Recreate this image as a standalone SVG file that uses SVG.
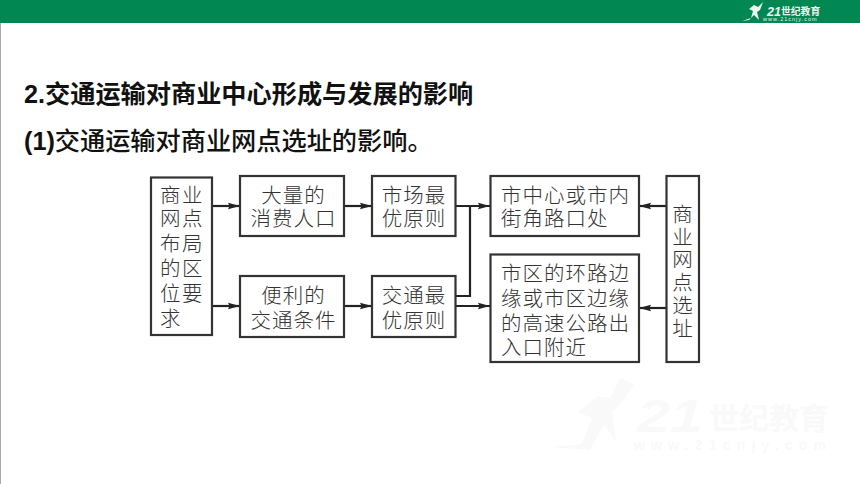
<svg xmlns="http://www.w3.org/2000/svg" width="860" height="484" viewBox="0 0 860 484">
<style>
.b{fill:#fff;stroke:#333;stroke-width:2.2}
.t{font-family:"Noto Sans CJK SC","Noto Sans",sans-serif;font-size:20.5px;fill:#333;font-weight:300;text-anchor:middle;letter-spacing:1px}
.s{text-anchor:start}
.h{font-family:"Liberation Sans","Noto Sans CJK SC",sans-serif;font-size:25.2px;fill:#111;font-weight:700}
.r{font-weight:500}
.c{fill:none;stroke:#222;stroke-width:2.2;marker-end:url(#a)}
.l{fill:none;stroke:#222;stroke-width:2.2}
</style>
<defs><marker id="a" markerUnits="userSpaceOnUse" markerWidth="13" markerHeight="8" refX="12" refY="4" orient="auto"><path d="M0 .8 L12 4 L0 7.200 L1.500 4Z" fill="#222"/></marker></defs>
<rect width="860" height="484" fill="#fff"/>
<rect x="0" y="0" width="860" height="23" fill="#008752"/>
<rect x="0" y="23" width="1" height="461" fill="#aaa"/>
<g id="logo" fill="#eef6f0">
<path d="M742 21 L751 18 L753 11 L749 9 L754 5 L758 7 L763 2 L760 10 L757 12 L759 20 L754 15 L749 20Z"/>
<text x="767" y="15.500" font-family="Liberation Sans,sans-serif" font-weight="700" font-style="italic" font-size="12.500">21</text>
<text x="781" y="15" font-family="Noto Sans CJK SC,sans-serif" font-weight="700" font-size="9.800">世纪教育</text>
<text x="763" y="21" font-family="Liberation Sans,sans-serif" font-size="5.500" letter-spacing="1">www.21cnjy.com</text>
</g>
<g id="watermark" fill="#f9f9f9">
<path d="M552 447 L582 444 L592 418 L578 412 L598 396 L610 398 L620 378 L634 384 L622 402 L612 412 L616 442 L604 424 L590 450Z"/>
<text x="637" y="432" font-family="Liberation Sans,sans-serif" font-weight="700" font-style="italic" font-size="46" textLength="66" lengthAdjust="spacingAndGlyphs">21</text>
<text x="709" y="429" font-family="Noto Sans CJK SC,sans-serif" font-weight="700" font-size="30">世纪教育</text>
<text x="634" y="450" font-family="Liberation Sans,sans-serif" font-weight="700" font-size="14" textLength="192">www.21cnjy.com</text>
</g>
<text class="h" x="24" y="103">2.交通运输对商业中心形成与发展的影响</text>
<text class="h" x="24" y="150">(1)<tspan class="r">交通运输对商业网点选址的影响。</tspan></text>
<g id="connectors">
<path class="c" d="M212 206H240"/><path class="c" d="M212 306H240"/>
<path class="c" d="M344 206H372"/><path class="c" d="M344 306H372"/>
<path class="c" d="M456 206H490"/><path class="l" d="M456 296H470V206"/>
<path class="c" d="M456 306H490"/>
<path class="c" d="M666 206H639"/><path class="c" d="M666 308H639"/>
</g>
<g id="n1"><rect class="b" x="151" y="177.500" width="61" height="157.500"/>
<text class="t" style="letter-spacing:1.500px"><tspan x="182" y="202.500">商业</tspan><tspan x="182" y="225.500">网点</tspan><tspan x="182" y="250.500">布局</tspan><tspan x="182" y="275.500">的区</tspan><tspan x="182" y="300.500">位要</tspan><tspan x="171" y="325.500">求</tspan></text></g>
<g id="n2"><rect class="b" x="240" y="176" width="104" height="60"/><text class="t"><tspan x="293.500" y="202.500">大量的</tspan><tspan x="293.500" y="226">消费人口</tspan></text></g>
<g id="n3"><rect class="b" x="372" y="176" width="83.500" height="60"/><text class="t"><tspan x="414" y="202.500">市场最</tspan><tspan x="414" y="226">优原则</tspan></text></g>
<g id="n4"><rect class="b" x="240" y="276" width="104" height="61"/><text class="t"><tspan x="293.500" y="302.500">便利的</tspan><tspan x="293.500" y="327.500">交通条件</tspan></text></g>
<g id="n5"><rect class="b" x="372" y="276" width="83.500" height="61"/><text class="t"><tspan x="414" y="302.500">交通最</tspan><tspan x="414" y="327.500">优原则</tspan></text></g>
<g id="n6"><rect class="b" x="490.500" y="176" width="148.500" height="60"/><text class="t s"><tspan x="501" y="202.500">市中心或市内</tspan><tspan x="501" y="226">街角路口处</tspan></text></g>
<g id="n7"><rect class="b" x="490.500" y="254.500" width="148.500" height="107.500"/>
<text class="t s"><tspan x="501" y="281">市区的环路边</tspan><tspan x="501" y="306">缘或市区边缘</tspan><tspan x="501" y="331">的高速公路出</tspan><tspan x="501" y="354.500">入口附近</tspan></text></g>
<g id="n8"><rect class="b" x="666.500" y="176" width="32.500" height="186"/>
<text class="t"><tspan x="683" y="221.500">商</tspan><tspan x="683" y="244.500">业</tspan><tspan x="683" y="267">网</tspan><tspan x="683" y="289.500">点</tspan><tspan x="683" y="312.500">选</tspan><tspan x="683" y="335.500">址</tspan></text></g>
</svg>
